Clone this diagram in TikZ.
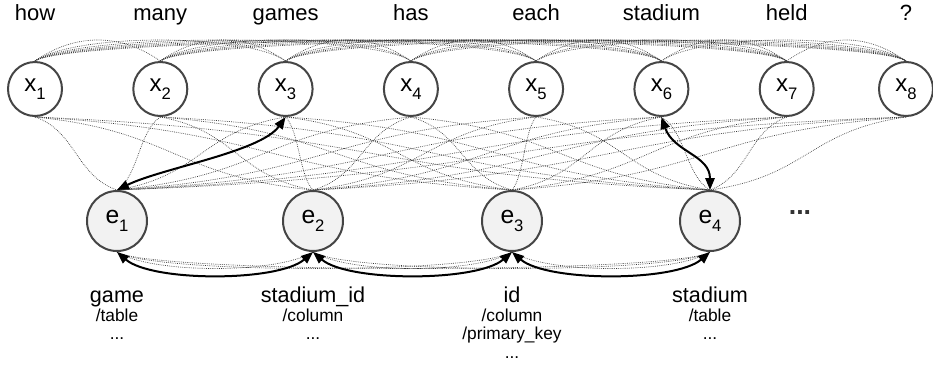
\documentclass[tikz,border=0pt]{standalone}
\usepackage{fontspec}
\setmainfont{Liberation Sans}
\usetikzlibrary{arrows.meta,calc,backgrounds}
\newcommand{\nodesub}[1]{\raisebox{-0.32em}{\fontsize{12.5}{12.5}\selectfont #1}}
\begin{document}
\begin{tikzpicture}[x=0.75pt,y=-0.75pt,
  xnode/.style={circle, draw=black!73, line width=1.5pt, fill=white, minimum size=40.5pt, inner sep=0pt, font=\fontsize{18}{18}\selectfont},
  enode/.style={circle, draw=black!73, line width=1.5pt, fill=black!5, minimum size=45pt, inner sep=0pt, font=\fontsize{18.5}{18.5}\selectfont},
  word/.style={anchor=base, inner sep=0pt, font=\fontsize{16.5}{16.5}\selectfont},
  lblmain/.style={anchor=base, inner sep=0pt, font=\fontsize{16.2}{16.2}\selectfont},
  lblsub/.style={anchor=base, inner sep=0pt, font=\fontsize{13}{13}\selectfont},
  dotline/.style={draw=black!78, line width=0.5pt, dash pattern=on 0.55pt off 0.85pt},
  biarrow/.style={draw=black, line width=1.5pt, {Triangle[length=9pt,width=7pt]}-{Triangle[length=9pt,width=7pt]}},
]
\useasboundingbox (0,0) rectangle (933,386);
\def\XP{{35,160.3,285.6,410.9,536.1,661.4,786.7,906}}
\def\EP{{117,313,512,710}}
% question words and token nodes
\foreach \w [count=\i] in {how,many,games,has,each,stadium,held,?} {
  \pgfmathsetmacro\px{\XP[\i-1]}
  \node[xnode] (x\i) at (\px,89) {x\nodesub{\i}};
  \node[word] (w\i) at (\px,20) {\w};
}
% entity nodes
\foreach \j in {1,...,4} {
  \pgfmathsetmacro\px{\EP[\j-1]}
  \node[enode] (e\j) at (\px,221) {e\nodesub{\j}};
}
\node[inner sep=0pt, font=\fontsize{20}{20}\selectfont\bfseries, text=black!80] (more) at (800,213) {...};
% labels
\node[lblmain] (l1) at (117,302) {game};
\node[lblsub] (l1a) at (117,321) {/table};
\node[lblsub] (l1b) at (117,339) {...};
\node[lblmain] (l2) at (313,302) {stadium\_id};
\node[lblsub] (l2a) at (313,321) {/column};
\node[lblsub] (l2b) at (313,339) {...};
\node[lblmain] (l3) at (512,302) {id};
\node[lblsub] (l3a) at (512,321) {/column};
\node[lblsub] (l3b) at (512,339) {/primary\_key};
\node[lblsub] (l3c) at (512,358) {...};
\node[lblmain] (l4) at (710,302) {stadium};
\node[lblsub] (l4a) at (710,321) {/table};
\node[lblsub] (l4b) at (710,339) {...};
\begin{pgfonlayer}{background}
% token-token links
\foreach \i in {1,...,7} {
  \pgfmathtruncatemacro\n{\i+1}
  \foreach \j in {\n,...,8} {
    \draw[dotline] (x\i.north) .. controls +(40,-28) and +(-40,-28) .. (x\j.north);
  }
}
% token-entity links
\foreach \i in {1,...,8} {
  \foreach \j in {1,...,4} {
    \pgfmathsetmacro\dx{\EP[\j-1]-\XP[\i-1]}
    \pgfmathsetmacro\cx{\dx*0.5}
    \draw[dotline] (x\i.south) .. controls +(\cx,14) and +(-\cx,-14) .. (e\j.north);
  }
}
% entity-entity links
\foreach \i in {1,...,3} {
  \pgfmathtruncatemacro\n{\i+1}
  \foreach \j in {\n,...,4} {
    \draw[dotline] (e\i.south) .. controls +(35,22) and +(-35,22) .. (e\j.south);
  }
}
\end{pgfonlayer}
% bold links
\draw[biarrow] (e1.north) .. controls +(45,-22) and +(-25,35) .. (x3.south);
\draw[biarrow] (x6.south) .. controls +(12,35) and +(0,-35) .. (e4.north);
\draw[biarrow] (e1.south) .. controls +(35,30) and +(-35,30) .. (e2.south);
\draw[biarrow] (e2.south) .. controls +(35,30) and +(-35,30) .. (e3.south);
\draw[biarrow] (e3.south) .. controls +(35,30) and +(-35,30) .. (e4.south);
\end{tikzpicture}
\end{document}
